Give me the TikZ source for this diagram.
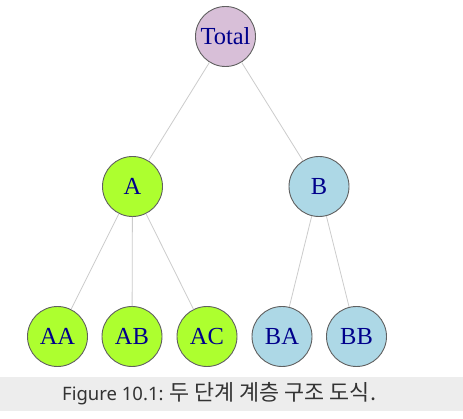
\documentclass[tikz,border=0pt]{standalone}
\usepackage{fontspec}
\setmainfont{Liberation Serif}
\newfontfamily\capfont{Noto Sans}
\newfontfamily\kofont{Noto Sans CJK KR}
\definecolor{thistlec}{HTML}{D8BFD8}
\definecolor{greenyel}{HTML}{ADFF2F}
\definecolor{lightbl}{HTML}{ADD8E6}
\definecolor{dblue}{HTML}{00008B}
\definecolor{edgec}{HTML}{CCCCCC}
\definecolor{borderc}{HTML}{606060}
\definecolor{bandc}{HTML}{EDEDED}
\definecolor{captxt}{HTML}{333333}
\begin{document}
\begin{tikzpicture}[x=1pt,y=-1pt,
  treenode/.style={circle,draw=borderc,line width=0.9pt,minimum size=60pt,inner sep=0pt,
    text=dblue,font=\fontsize{24.5}{24.5}\selectfont},
  edge/.style={draw=edgec,line width=0.8pt}]
\useasboundingbox (0,0) rectangle (463,419);
\fill[white] (0,0) rectangle (463,419);
\fill[bandc] (0,377) rectangle (463,411);
\node[treenode,fill=thistlec] (T) at (225.5,36.5) {Total};
\node[treenode,fill=greenyel] (A) at (132.5,186.5) {A};
\node[treenode,fill=lightbl] (B) at (319,186.5) {B};
\node[treenode,fill=greenyel] (AA) at (57.5,336.5) {AA};
\node[treenode,fill=greenyel] (AB) at (132,336.5) {AB};
\node[treenode,fill=greenyel] (AC) at (207,336.5) {AC};
\node[treenode,fill=lightbl] (BA) at (282,336.5) {BA};
\node[treenode,fill=lightbl] (BB) at (356.5,336.5) {BB};
\draw[edge] (T) -- (A);
\draw[edge] (T) -- (B);
\draw[edge] (A) -- (AA);
\draw[edge] (A) -- (AB);
\draw[edge] (A) -- (AC);
\draw[edge] (B) -- (BA);
\draw[edge] (B) -- (BB);
\node[text=captxt,font=\capfont\fontsize{18.5}{18.5}\selectfont,anchor=base west,inner sep=0pt] (cap) at (62,400.3)
  {Figure 10.1: {\kofont\fontsize{21.8}{21.8}\selectfont 두 단계 계층 구조 도식.}};
\end{tikzpicture}
\end{document}
